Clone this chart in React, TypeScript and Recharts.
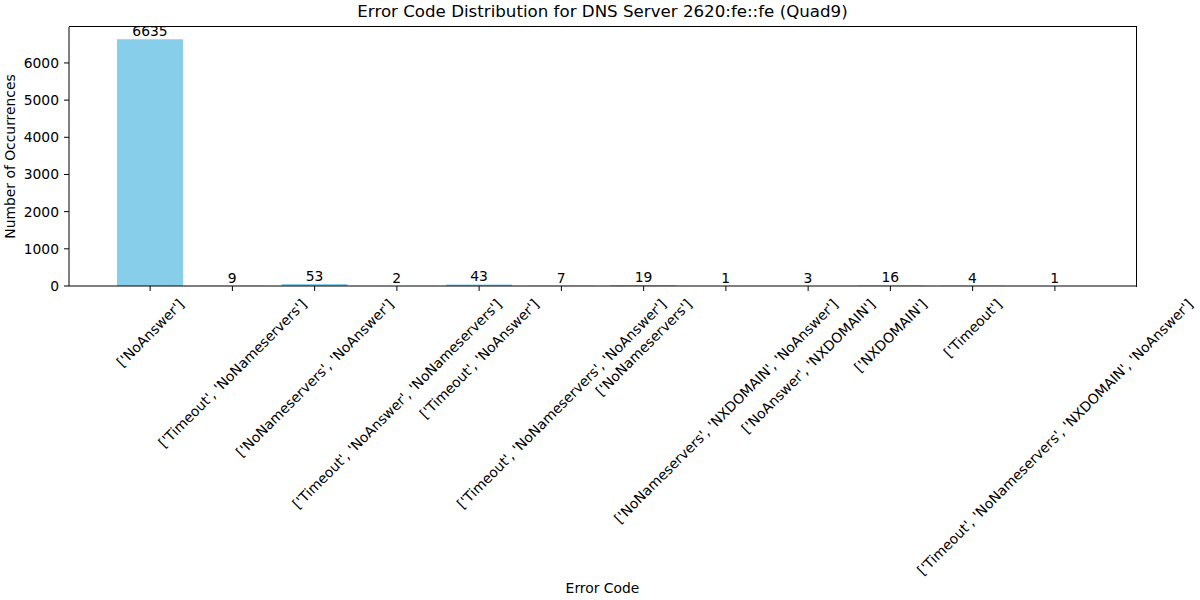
import { Bar, BarChart, LabelList, XAxis, YAxis, Label } from 'recharts';

const categories = [
	"['NoAnswer']",
	"['Timeout', 'NoNameservers']",
	"['NoNameservers', 'NoAnswer']",
	"['Timeout', 'NoAnswer', 'NoNameservers']",
	"['Timeout', 'NoAnswer']",
	"['Timeout', 'NoNameservers', 'NoAnswer']",
	"['NoNameservers']",
	"['NoNameservers', 'NXDOMAIN', 'NoAnswer']",
	"['NoAnswer', 'NXDOMAIN']",
	"['NXDOMAIN']",
	"['Timeout']",
	"['Timeout', 'NoNameservers', 'NXDOMAIN', 'NoAnswer']",
];
const counts = [6635, 9, 53, 2, 43, 7, 19, 1, 3, 16, 4, 1];
const yTicks = [0, 1000, 2000, 3000, 4000, 5000, 6000];

const data = categories.map((code, i) => ({ code, count: counts[i] }));

const FONT = '"DejaVu Sans", sans-serif';
const FS = 13.89;

let ctx: CanvasRenderingContext2D | null = null;
function measure(s: string) {
	if (!ctx) ctx = document.createElement('canvas').getContext('2d');
	if (!ctx) return s.length * 8;
	ctx.font = `${FS}px ${FONT}`;
	return ctx.measureText(s).width;
}

function RotatedTick(props: any) {
	const { x, y, payload } = props;
	const w = measure(payload.value);
	const h = FS * 1.16;
	const cy = y + (w + h) / (2 * Math.SQRT2);
	return (
		<text
			x={x}
			y={cy}
			textAnchor='middle'
			dominantBaseline='central'
			fontSize={FS}
			fill='#000'
			transform={`rotate(-45, ${x}, ${cy})`}
		>
			{payload.value}
		</text>
	);
}

export default function App() {
	return (
		<div style={{ position: 'absolute', left: 0, top: 0, width: 1200, height: 600, fontFamily: FONT, background: '#fff' }}>
			<div
				style={{
					position: 'absolute',
					left: 0,
					width: 1205,
					top: 2,
					textAlign: 'center',
					fontSize: 16.67,
					color: '#000',
				}}
			>
				Error Code Distribution for DNS Server 2620:fe::fe (Quad9)
			</div>
			<BarChart width={1200} height={600} data={data} margin={{ top: 27, right: 64, left: 0, bottom: 0 }}>
				<XAxis
					dataKey='code'
					interval={0}
					height={314}
					padding={{ left: 40, right: 40 }}
					tick={<RotatedTick />}
					tickSize={5}
					tickMargin={5}
					stroke='#000'
					tickLine={{ stroke: '#000' }}
				>
					<Label value='Error Code' position='insideBottom' offset={7} fontSize={FS} fill='#000' />
				</XAxis>
				<YAxis
					domain={[0, 6966.75]}
					ticks={yTicks}
					width={69}
					tickSize={5}
					tickMargin={5}
					stroke='#000'
					tick={{ fontSize: FS, fill: '#000' }}
				>
					<Label
						value='Number of Occurrences'
						angle={-90}
						position='insideLeft'
						offset={10}
						fontSize={FS}
						fill='#000'
						style={{ textAnchor: 'middle' }}
					/>
				</YAxis>
				<Bar dataKey='count' fill='#87CEEB' barSize={66} isAnimationActive={false}>
					<LabelList dataKey='count' position='top' offset={3} fontSize={FS} fill='#000' />
				</Bar>
			</BarChart>
			<div
				style={{
					position: 'absolute',
					left: 69,
					top: 26,
					width: 1068,
					height: 261,
					boxSizing: 'border-box',
					borderTop: '1px solid #000',
					borderRight: '1px solid #000',
					pointerEvents: 'none',
				}}
			/>
		</div>
	);
}
